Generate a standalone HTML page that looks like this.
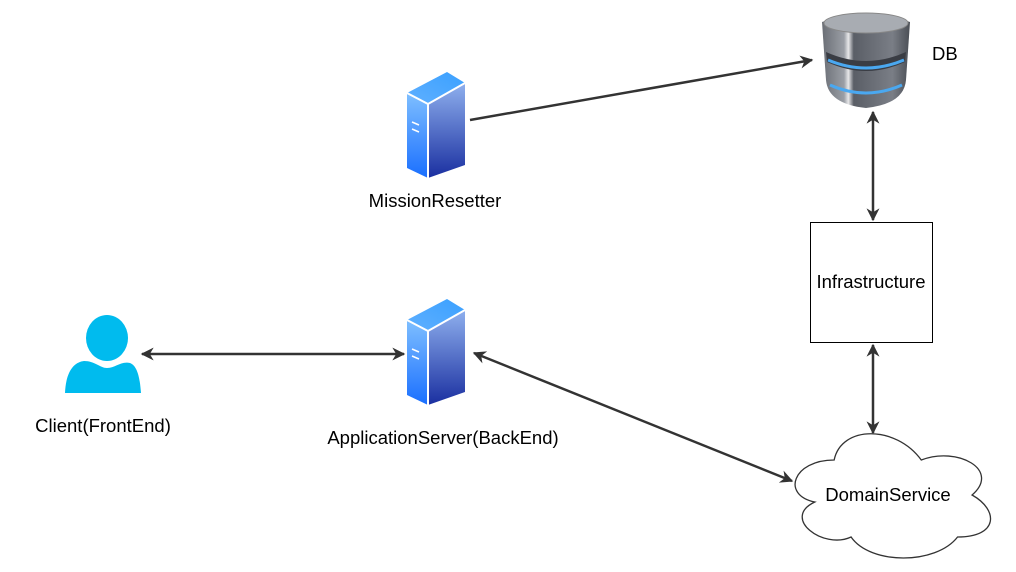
<!DOCTYPE html>
<html><head><meta charset="utf-8"><style>
body{margin:0;background:#fff;}
text{font-family:"Liberation Sans",Arial,sans-serif;font-size:18.5px;fill:#000;}
</style></head><body>
<svg width="1016" height="567" viewBox="0 0 1016 567" xmlns="http://www.w3.org/2000/svg">
<defs>
<linearGradient id="sf" x1="0" y1="0" x2="0" y2="1"><stop offset="0" stop-color="#7fbfff"/><stop offset="1" stop-color="#1a6fff"/></linearGradient>
<linearGradient id="sr" x1="0" y1="0" x2="0" y2="1"><stop offset="0" stop-color="#8fb0ee"/><stop offset="1" stop-color="#1a2fa0"/></linearGradient>
<linearGradient id="st" x1="0" y1="1" x2="1" y2="0"><stop offset="0" stop-color="#60b0ff"/><stop offset="1" stop-color="#3aa0ff"/></linearGradient>
<linearGradient id="db" x1="0" y1="0" x2="1" y2="0"><stop offset="0" stop-color="#6a6e75"/><stop offset="0.25" stop-color="#9a9ea5"/><stop offset="0.3" stop-color="#e8e8ea"/><stop offset="0.36" stop-color="#5a5e66"/><stop offset="0.8" stop-color="#7a7e86"/><stop offset="1" stop-color="#4a4e55"/></linearGradient>
<marker id="a" viewBox="0 0 10 10" refX="9" refY="5" markerWidth="13" markerHeight="13" orient="auto-start-reverse" markerUnits="userSpaceOnUse"><path d="M0,0 L10,5 L0,10 L3,5 Z" fill="#333"/></marker>
<g id="srv">
<path d="M0,21 L40,0 L58,11 L21,32 Z" fill="url(#st)"/>
<path d="M21,32 L58,11 L58,93 L21,106 Z" fill="url(#sr)"/>
<path d="M0,21 L21,32 L21,106 L0,96 Z" fill="url(#sf)"/>
<path d="M0,21 L21,32 L58,11 M21,32 L21,106" stroke="#fff" stroke-width="2" fill="none"/>
<path d="M5,50 L12,53 M5,57 L12,60" stroke="#fff" stroke-width="1.5"/>
</g>
</defs>
<line x1="470" y1="120" x2="812" y2="60" stroke="#333" stroke-width="2.5" marker-end="url(#a)"/>
<line x1="873" y1="112" x2="873" y2="220" stroke="#333" stroke-width="2.5" marker-start="url(#a)" marker-end="url(#a)"/>
<line x1="873" y1="345" x2="873" y2="433" stroke="#333" stroke-width="2.5" marker-start="url(#a)" marker-end="url(#a)"/>
<line x1="142" y1="354" x2="404" y2="354" stroke="#333" stroke-width="2.5" marker-start="url(#a)" marker-end="url(#a)"/>
<line x1="474" y1="353" x2="792" y2="481" stroke="#333" stroke-width="2.5" marker-start="url(#a)" marker-end="url(#a)"/>
<use href="#srv" x="407" y="72"/>
<use href="#srv" x="407" y="299"/>
<text x="435" y="207" text-anchor="middle">MissionResetter</text>
<text x="443" y="444" text-anchor="middle">ApplicationServer(BackEnd)</text>
<path d="M822,22 Q866,6 910,22 L906,80 Q904,104 866,108 Q828,104 826,80 Z" fill="url(#db)"/>
<ellipse cx="866" cy="23" rx="42" ry="10" fill="#a8acb2" stroke="#888"/>
<path d="M826,52 Q866,70 906,52 L905,62 Q866,80 827,62 Z" fill="#3a3d44"/>
<path d="M828,60 Q866,76 904,60" stroke="#4aa8f0" stroke-width="3" fill="none"/>
<path d="M830,85 Q866,101 902,85" stroke="#4aa8f0" stroke-width="3" fill="none"/>
<text x="932" y="60">DB</text>
<rect x="810.5" y="222.5" width="122" height="120" fill="#fff" stroke="#000"/>
<text x="871" y="288" text-anchor="middle">Infrastructure</text>
<path transform="translate(793,0) scale(1.21,1) translate(-800,0)" vector-effect="non-scaling-stroke" d="M834,460 C800,460 790,495 818,502 C790,518 825,550 848,537 C864,565 918,565 936,537 C970,537 970,510 948,495 C972,470 936,446 906,460 C885,425 840,425 834,460 Z" fill="#fff" stroke="#333" stroke-width="1.3"/>
<text x="888" y="501" text-anchor="middle">DomainService</text>
<ellipse cx="107" cy="338" rx="21" ry="23" fill="#00bbee"/>
<path d="M65,393 C66,370 75,362 84,361 C95,361 100,368 107,368 C116,368 120,361 130,363 C138,366 140,380 141,393 Z" fill="#00bbee"/>
<text x="103" y="432" text-anchor="middle">Client(FrontEnd)</text>
</svg>
</body></html>
